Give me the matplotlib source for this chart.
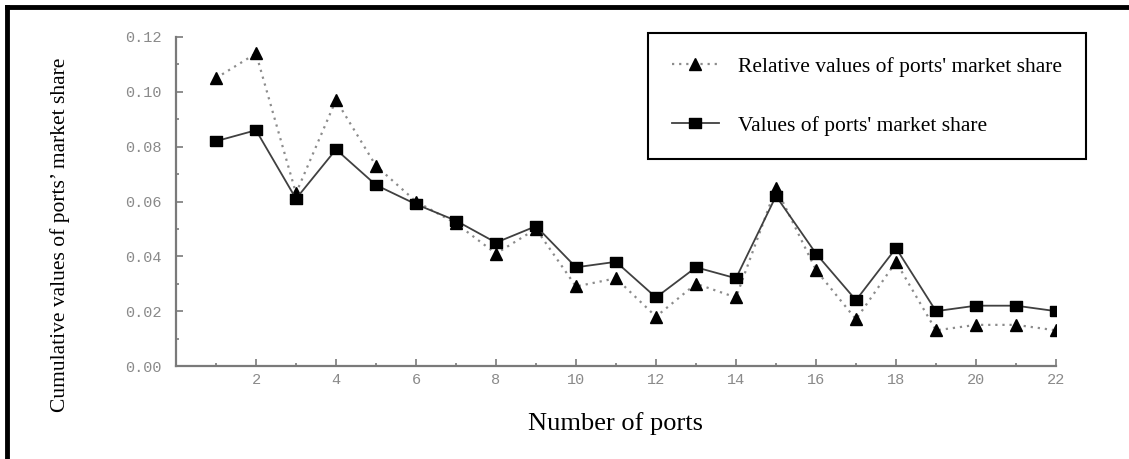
import matplotlib
matplotlib.use("Agg")
import matplotlib.pyplot as plt
from matplotlib.lines import Line2D
from matplotlib.ticker import MultipleLocator, FormatStrFormatter
import numpy as np

# data
ports = list(range(1, 23))
share_values = [0.082, 0.086, 0.061, 0.079, 0.066, 0.059, 0.053, 0.045, 0.051, 0.036, 0.038,
                0.025, 0.036, 0.032, 0.062, 0.041, 0.024, 0.043, 0.020, 0.022, 0.022, 0.020]
relative_values = [0.105, 0.114, 0.063, 0.097, 0.073, 0.060, 0.052, 0.041, 0.050, 0.029, 0.032,
                   0.018, 0.030, 0.025, 0.065, 0.035, 0.017, 0.038, 0.013, 0.015, 0.015, 0.013]
label_rel = "Relative values of ports' market share"
label_val = "Values of ports' market share"

SERIF = ["Liberation Serif", "DejaVu Serif"]
MONO = ["Liberation Mono", "DejaVu Sans Mono"]
AXIS_C, TICK_C = "#7a7a7a", "#8a8a8a"

# slightly wide rectangle, like the reference squares
rect = [(-1, -0.75), (1, -0.75), (1, 0.75), (-1, 0.75), (-1, -0.75)]

fig = plt.figure(figsize=(11.29, 4.59), dpi=100, facecolor="white")
ax = fig.add_axes([176 / 1129, 1 - 366 / 459, 880 / 1129, 329 / 459])

ax.plot(ports, relative_values, linestyle=(0, (1, 2.2)), color="#8c8c8c", lw=1.6,
        marker="^", ms=8.5, mfc="black", mec="black", label=label_rel, zorder=3)
ax.plot(ports, share_values, linestyle="-", color="#404040", lw=1.3,
        marker=rect, ms=9, mfc="black", mec="black", label=label_val, zorder=4)

ax.set_xlim(0, 22)
ax.set_ylim(0, 0.12)
ax.xaxis.set_major_locator(MultipleLocator(2))
ax.xaxis.set_minor_locator(MultipleLocator(1))
ax.yaxis.set_major_locator(MultipleLocator(0.02))
ax.yaxis.set_minor_locator(MultipleLocator(0.01))
ax.yaxis.set_major_formatter(FormatStrFormatter("%.2f"))

for s in ("top", "right"):
    ax.spines[s].set_visible(False)
for s in ("left", "bottom"):
    ax.spines[s].set_color(AXIS_C)
    ax.spines[s].set_linewidth(1.6)

ax.tick_params(which="both", direction="in", colors=AXIS_C, width=1.2)
ax.tick_params(which="major", length=5)
ax.tick_params(which="minor", length=2.5)
ax.tick_params(axis="y", which="major", pad=10, labelcolor=TICK_C)
ax.tick_params(axis="x", which="major", pad=5, labelcolor=TICK_C)
for t in ax.get_xticklabels() + ax.get_yticklabels():
    t.set_family(MONO)
    t.set_fontsize(11)
ax.set_xticklabels(["" if v == 0 else f"{v:g}" for v in ax.get_xticks()])

ax.set_xlabel("Number of ports", family=SERIF, fontsize=19, labelpad=18)
fig.text(60 / 1129, 1 - 235 / 459, "Cumulative values of ports\u2019 market share",
         family=SERIF, fontsize=15.5, rotation=90, ha="center", va="center")

leg = ax.legend(loc="upper left", bbox_to_anchor=(648 / 1129, 1 - 33 / 459),
                bbox_transform=fig.transFigure, prop={"family": SERIF, "size": 15.5},
                frameon=True, fancybox=False, edgecolor="black", framealpha=1,
                handlelength=2.2, handletextpad=0.9, labelspacing=1.8,
                borderpad=1.1, borderaxespad=0)
leg.get_frame().set_linewidth(1.5)

# page border: thick top and left rules
fig.add_artist(Line2D([7 / 1129, 1], [1 - 7 / 459, 1 - 7 / 459], color="black", lw=3.5,
                      transform=fig.transFigure))
fig.add_artist(Line2D([7 / 1129, 7 / 1129], [0, 1 - 7 / 459], color="black", lw=3.5,
                      transform=fig.transFigure))

fig.savefig("out.png", dpi=100, facecolor="white")
